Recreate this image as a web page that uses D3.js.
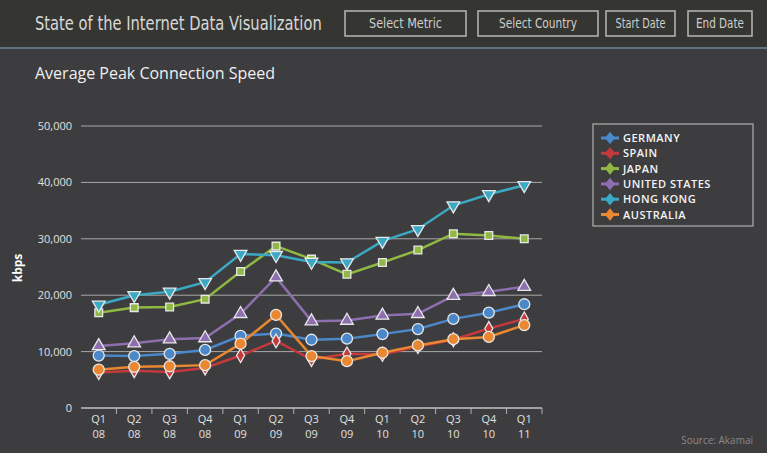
<!DOCTYPE html>
<html>

<head>
  <meta charset="utf-8" />
  <title>State of the Internet</title>
  <style>
    body {
      margin: 0;
      background-color: #3d3d3f;
      font-family: "Open Sans", "DejaVu Sans", sans-serif;
    }

    #chartArea {
      width: 767px;
      height: 453px;
    }
  </style>
  <script src="https://cdnjs.cloudflare.com/ajax/libs/d3/7.8.5/d3.min.js"></script>
</head>

<body>
  <div id="chartArea"></div>
  <script>
    var quarters = ['Q1', 'Q2', 'Q3', 'Q4', 'Q1', 'Q2', 'Q3', 'Q4', 'Q1', 'Q2', 'Q3', 'Q4', 'Q1'];
    var years = ['08', '08', '08', '08', '09', '09', '09', '09', '10', '10', '10', '10', '11'];
    var yTicks = [0, 10000, 20000, 30000, 40000, 50000];

    var germany = [9300, 9200, 9600, 10300, 12800, 13200, 12100, 12300, 13100, 14000, 15800, 16900, 18400];
    var spain = [6300, 6600, 6400, 7100, 9300, 11900, 8600, 9600, 9500, 10900, 12100, 14100, 15800];
    var japan = [16900, 17800, 17900, 19300, 24200, 28700, 26400, 23700, 25800, 28000, 30900, 30600, 30000];
    var unitedStates = [11000, 11500, 12200, 12400, 16700, 23200, 15400, 15500, 16400, 16700, 19900, 20600, 21500];
    var hongKong = [18300, 20000, 20600, 22300, 27300, 27100, 25900, 25800, 29600, 31700, 35900, 37900, 39500];
    var australia = [6800, 7300, 7400, 7600, 11400, 16500, 9200, 8300, 9800, 11100, 12200, 12600, 14700];

    var series = [
      { name: 'GERMANY', values: germany, color: '#4a88c9', symbol: d3.symbolCircle },
      { name: 'SPAIN', values: spain, color: '#c4393c', symbol: d3.symbolDiamond },
      { name: 'JAPAN', values: japan, color: '#8fb942', symbol: d3.symbolSquare },
      { name: 'UNITED STATES', values: unitedStates, color: '#8d6fb0', symbol: d3.symbolTriangle },
      { name: 'HONG KONG', values: hongKong, color: '#3ba9c4', symbol: 'down' },
      { name: 'AUSTRALIA', values: australia, color: '#ea8731', symbol: d3.symbolCircle }
    ];

    var w = 767, h = 453;
    var margin = { left: 81, right: 225, top: 126, bottom: 45 };
    var plotW = w - margin.left - margin.right;
    var plotH = h - margin.top - margin.bottom;

    var svg = d3.select('#chartArea').append('svg')
      .attr('width', w)
      .attr('height', h);

    // header strip
    svg.append('rect').attr('width', w).attr('height', 48).attr('fill', '#353532');
    svg.append('rect').attr('y', 47).attr('width', w).attr('height', 2).attr('fill', '#5d7282');

    var narrow = '"DejaVu Sans Condensed", "Liberation Sans", sans-serif';

    // squeeze a text horizontally so it fills a given width (condensed look)
    function squeeze(sel, x, y, width) {
      sel.each(function () {
        var len = this.getComputedTextLength();
        var k = width / len;
        d3.select(this).attr('transform', 'translate(' + x + ',' + y + ') scale(' + k + ',1)');
      });
    }

    var title = svg.append('text')
      .attr('fill', '#d8d8d8')
      .style('font-family', narrow)
      .style('font-size', '20px')
      .text('State of the Internet Data Visualization');
    squeeze(title, 35, 30, 287);

    var buttons = [
      { label: 'Select Metric', x: 345, w: 121, tw: 73 },
      { label: 'Select Country', x: 478, w: 120, tw: 78 },
      { label: 'Start Date', x: 606, w: 69, tw: 50 },
      { label: 'End Date', x: 688, w: 64, tw: 48 }
    ];
    var btn = svg.selectAll('.btn').data(buttons).enter().append('g').attr('class', 'btn');
    btn.append('rect')
      .attr('x', d => d.x).attr('y', 11)
      .attr('width', d => d.w).attr('height', 25)
      .attr('fill', 'none').attr('stroke', '#b8b8b4').attr('stroke-width', 1.5);
    btn.append('text')
      .attr('text-anchor', 'middle')
      .attr('fill', '#cfcfcb')
      .style('font-family', narrow)
      .style('font-size', '14px')
      .text(d => d.label)
      .each(function (d) {
        squeeze(d3.select(this), d.x + d.w / 2, 28, d.tw);
      });

    svg.append('text')
      .attr('x', 35).attr('y', 79)
      .attr('fill', '#f0f0f0')
      .style('font-size', '16px')
      .text('Average Peak Connection Speed');

    var xScale = d3.scaleBand()
      .domain(d3.range(quarters.length))
      .range([0, plotW]);

    var yScale = d3.scaleLinear()
      .domain([0, 50000])
      .range([plotH, 0]);

    var g = svg.append('g').attr('transform', 'translate(' + margin.left + ',' + margin.top + ')');

    // grid lines
    g.selectAll('.grid').data(yTicks).enter().append('line')
      .attr('x1', 0).attr('x2', plotW)
      .attr('y1', d => yScale(d)).attr('y2', d => yScale(d))
      .attr('stroke', '#a9a9a9').attr('stroke-width', 1);

    var yAxis = g.append('g')
      .call(d3.axisLeft(yScale).tickValues(yTicks).tickSize(0).tickPadding(9).tickFormat(d3.format(',')));
    yAxis.select('.domain').remove();
    yAxis.selectAll('text').attr('fill', '#e0e0e0').style('font-size', '11px').style('font-family', '"Open Sans", sans-serif');

    svg.append('text')
      .attr('transform', 'translate(22,268) rotate(-90)')
      .attr('text-anchor', 'middle')
      .attr('fill', '#ffffff')
      .style('font-weight', 'bold')
      .style('font-size', '12px')
      .text('kbps');

    // x axis with band separators
    var xAxis = g.append('g').attr('transform', 'translate(0,' + plotH + ')');
    xAxis.append('line').attr('x1', 0).attr('x2', plotW).attr('stroke', '#b0b0b0').attr('stroke-width', 1.5);
    xAxis.selectAll('.sep').data(d3.range(1, quarters.length + 1)).enter().append('line')
      .attr('x1', d => d * xScale.step()).attr('x2', d => d * xScale.step())
      .attr('y1', 0).attr('y2', 6)
      .attr('stroke', '#b0b0b0');
    var xl = xAxis.selectAll('.xl').data(quarters).enter().append('text')
      .attr('text-anchor', 'middle')
      .attr('fill', '#e0e0e0')
      .style('font-size', '11px');
    xl.append('tspan').attr('x', (d, i) => xScale(i) + xScale.bandwidth() / 2).attr('y', 15).text(d => d);
    xl.append('tspan').attr('x', (d, i) => xScale(i) + xScale.bandwidth() / 2).attr('y', 30).text((d, i) => years[i]);

    var line = d3.line()
      .x((d, i) => xScale(i) + xScale.bandwidth() / 2)
      .y(d => yScale(d));

    function symbolPath(s, size) {
      if (s === 'down') return d3.symbol().type(d3.symbolTriangle).size(size)();
      return d3.symbol().type(s).size(size)();
    }

    var sizes = new Map([[d3.symbolCircle, 95], [d3.symbolSquare, 60], [d3.symbolDiamond, 55], [d3.symbolTriangle, 70], ['down', 70]]);

    series.forEach(function (s) {
      var sg = g.append('g');
      sg.append('path')
        .attr('d', line(s.values))
        .attr('fill', 'none')
        .attr('stroke', s.color)
        .attr('stroke-width', 2.5);
      sg.selectAll('.m').data(s.values).enter().append('path')
        .attr('d', symbolPath(s.symbol, sizes.get(s.symbol)))
        .attr('transform', (d, i) => 'translate(' + (xScale(i) + xScale.bandwidth() / 2) + ',' + yScale(d) + ')' + (s.symbol === 'down' ? ' rotate(180)' : ''))
        .attr('fill', s.color)
        .attr('stroke', '#e8e8e8')
        .attr('stroke-width', 1.3);
    });

    // legend
    var legend = svg.append('g').attr('transform', 'translate(593,124)');
    legend.append('rect')
      .attr('width', 160).attr('height', 102)
      .attr('fill', '#3d3d3f')
      .attr('stroke', '#b0b0b0').attr('stroke-width', 1.2);
    var li = legend.selectAll('.li').data(series).enter().append('g')
      .attr('transform', (d, i) => 'translate(0,' + (14 + i * 15.3) + ')');
    li.append('line')
      .attr('x1', 8).attr('x2', 26)
      .attr('stroke', d => d.color).attr('stroke-width', 3);
    li.append('path')
      .attr('d', d3.symbol().type(d3.symbolDiamond).size(45)())
      .attr('transform', 'translate(17,0) scale(1.4,1)')
      .attr('fill', d => d.color);
    li.append('text')
      .attr('x', 30).attr('y', 4)
      .attr('fill', '#f4f4f4')
      .style('font-size', '11px')
      .style('letter-spacing', '0.5px')
      .style('font-weight', '600')
      .text(d => d.name);

    svg.append('text')
      .attr('x', 753).attr('y', 444)
      .attr('text-anchor', 'end')
      .attr('fill', '#8a8a8a')
      .style('font-size', '10px')
      .text('Source: Akamai');
  </script>
</body>

</html>
